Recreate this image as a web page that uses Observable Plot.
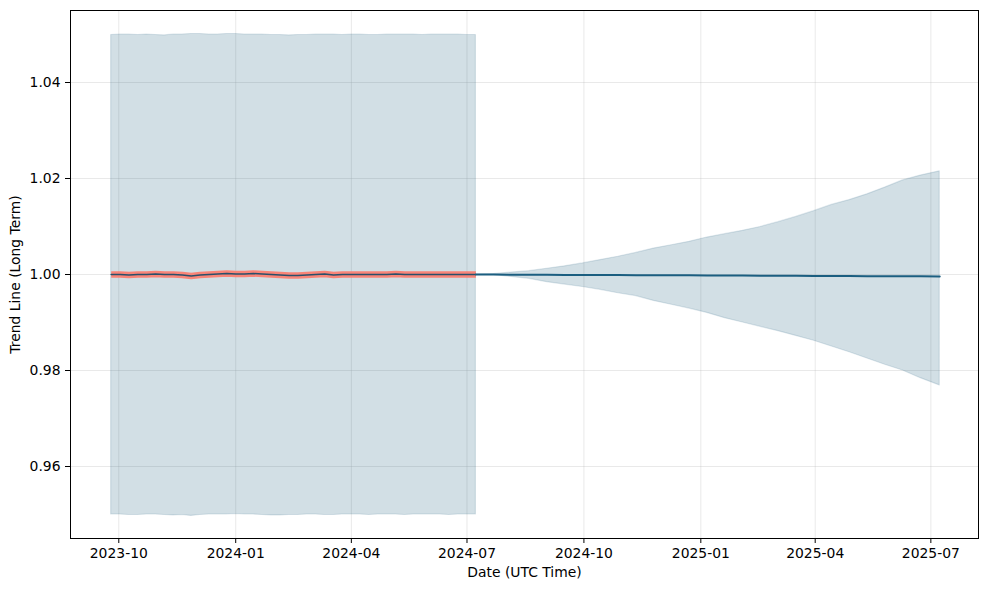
<!DOCTYPE html>
<html>
<head>
<meta charset="utf-8">
<script src="https://cdn.jsdelivr.net/npm/d3@7"></script>
<script src="https://cdn.jsdelivr.net/npm/@observablehq/plot@0.6"></script>
<style>
  html, body { margin: 0; padding: 0; background: #fff; }
  #chart svg { display: block; font-family: "DejaVu Sans", sans-serif; }
</style>
</head>
<body>
<div id="chart"></div>
<script>
// Historical (weekly)
const histDates = ["2023-09-25","2023-10-02","2023-10-09","2023-10-16","2023-10-23","2023-10-30","2023-11-06","2023-11-13","2023-11-20","2023-11-27","2023-12-04","2023-12-11","2023-12-18","2023-12-25","2024-01-01","2024-01-08","2024-01-15","2024-01-22","2024-01-29","2024-02-05","2024-02-12","2024-02-19","2024-02-26","2024-03-04","2024-03-11","2024-03-18","2024-03-25","2024-04-01","2024-04-08","2024-04-15","2024-04-22","2024-04-29","2024-05-06","2024-05-13","2024-05-20","2024-05-27","2024-06-03","2024-06-10","2024-06-17","2024-06-24","2024-07-01","2024-07-08"];
const histTrend = [1.0000,1.0000,0.9999,1.0000,1.0000,1.0001,1.0000,1.0000,0.9999,0.9997,0.9999,1.0000,1.0001,1.0002,1.0001,1.0001,1.0002,1.0001,1.0000,0.9999,0.9998,0.9998,0.9999,1.0000,1.0001,0.9999,1.0000,1.0000,1.0000,1.0000,1.0000,1.0000,1.0001,1.0000,1.0000,1.0000,1.0000,1.0000,1.0000,1.0000,1.0000,1.0000];
const histUpper = [1.0499,1.0500,1.0500,1.0499,1.0500,1.0499,1.0498,1.0500,1.0500,1.0501,1.0501,1.0500,1.0500,1.0501,1.0501,1.0500,1.0500,1.0500,1.0499,1.0499,1.0498,1.0499,1.0499,1.0500,1.0500,1.0500,1.0499,1.0500,1.0500,1.0499,1.0499,1.0500,1.0500,1.0500,1.0500,1.0499,1.0500,1.0500,1.0500,1.0500,1.0499,1.0499];
const histLower = [0.9500,0.9500,0.9499,0.9499,0.9500,0.9500,0.9499,0.9498,0.9499,0.9497,0.9499,0.9500,0.9500,0.9500,0.9501,0.9500,0.9500,0.9499,0.9498,0.9498,0.9499,0.9499,0.9500,0.9500,0.9499,0.9499,0.9500,0.9500,0.9500,0.9499,0.9500,0.9500,0.9500,0.9499,0.9500,0.9500,0.9500,0.9500,0.9499,0.9500,0.9500,0.9500];

// Forecast (bi-weekly)
const fcDates = ["2024-07-08","2024-07-22","2024-08-05","2024-08-19","2024-09-02","2024-09-16","2024-09-30","2024-10-14","2024-10-28","2024-11-11","2024-11-25","2024-12-09","2024-12-23","2025-01-06","2025-01-20","2025-02-03","2025-02-17","2025-03-03","2025-03-17","2025-03-31","2025-04-14","2025-04-28","2025-05-12","2025-05-26","2025-06-09","2025-06-23","2025-07-08"];
const fcTrend = [1.00000,0.99998,0.99997,0.99995,0.99994,0.99992,0.99991,0.99989,0.99988,0.99986,0.99985,0.99983,0.99982,0.99980,0.99979,0.99977,0.99976,0.99974,0.99972,0.99971,0.99969,0.99968,0.99966,0.99965,0.99963,0.99962,0.99960];
const fcUpper = [1.0000,1.0001,1.0004,1.0007,1.0012,1.0017,1.0023,1.0030,1.0037,1.0045,1.0054,1.0061,1.0068,1.0077,1.0084,1.0091,1.0099,1.0109,1.0120,1.0132,1.0145,1.0155,1.0167,1.0181,1.0196,1.0206,1.0215];
const fcLower = [1.0000,0.9999,0.9995,0.9991,0.9984,0.9979,0.9974,0.9968,0.9961,0.9955,0.9945,0.9937,0.9929,0.9920,0.9909,0.9900,0.9891,0.9882,0.9872,0.9862,0.9850,0.9838,0.9825,0.9812,0.9800,0.9784,0.9769];

const xTicks = ["2023-10-01","2024-01-01","2024-04-01","2024-07-01","2024-10-01","2025-01-01","2025-04-01","2025-07-01"];
const yTicks = [0.96, 0.98, 1.00, 1.02, 1.04];

const parse = d3.utcParse("%Y-%m-%d");
const hist = histDates.map((d, i) => ({date: parse(d), trend: histTrend[i], upper: histUpper[i], lower: histLower[i]}));
const fc = fcDates.map((d, i) => ({date: parse(d), trend: fcTrend[i], upper: fcUpper[i], lower: fcLower[i]}));
const xt = xTicks.map(parse);

const bandFill = "#1f5f7f";
const chart = Plot.plot({
  width: 990,
  height: 590,
  marginLeft: 70,
  marginRight: 12,
  marginTop: 10,
  marginBottom: 52,
  style: {fontFamily: "DejaVu Sans, sans-serif", fontSize: "13.9px", color: "#000", background: "#fff"},
  x: {type: "utc", domain: [new Date(Date.UTC(2023,7,24)), new Date(Date.UTC(2025,7,7,12))]},
  y: {domain: [0.945, 1.055]},
  marks: [
    Plot.gridX(xt, {stroke: "#b0b0b0", strokeOpacity: 0.35, strokeWidth: 0.8}),
    Plot.gridY(yTicks, {stroke: "#b0b0b0", strokeOpacity: 0.35, strokeWidth: 0.8}),
    Plot.areaY(hist, {x: "date", y1: "lower", y2: "upper", fill: bandFill, fillOpacity: 0.2, stroke: bandFill, strokeOpacity: 0.15, strokeWidth: 1.2}),
    Plot.areaY(fc, {x: "date", y1: "lower", y2: "upper", fill: bandFill, fillOpacity: 0.2, stroke: bandFill, strokeOpacity: 0.15, strokeWidth: 1.2}),
    Plot.lineY(hist, {x: "date", y: "trend", stroke: "#fa8072", strokeOpacity: 0.95, strokeWidth: 6.5, strokeLinecap: "butt"}),
    Plot.lineY(hist, {x: "date", y: "trend", stroke: "#28506b", strokeWidth: 1.5}),
    Plot.lineY(fc, {x: "date", y: "trend", stroke: "#1b5e80", strokeWidth: 2}),
    Plot.axisX({ticks: xt, tickFormat: d3.utcFormat("%Y-%m"), tickSize: 5, tickPadding: 5, label: "Date (UTC Time)", labelAnchor: "center", labelArrow: "none", labelOffset: 38}),
    Plot.axisY({ticks: yTicks, tickFormat: ".2f", tickSize: 5, tickPadding: 5, label: "Trend Line (Long Term)", labelAnchor: "center", labelArrow: "none", labelOffset: 60}),
    Plot.frame({stroke: "#000", strokeWidth: 1})
  ]
});
document.getElementById("chart").append(chart);
</script>
</body>
</html>
